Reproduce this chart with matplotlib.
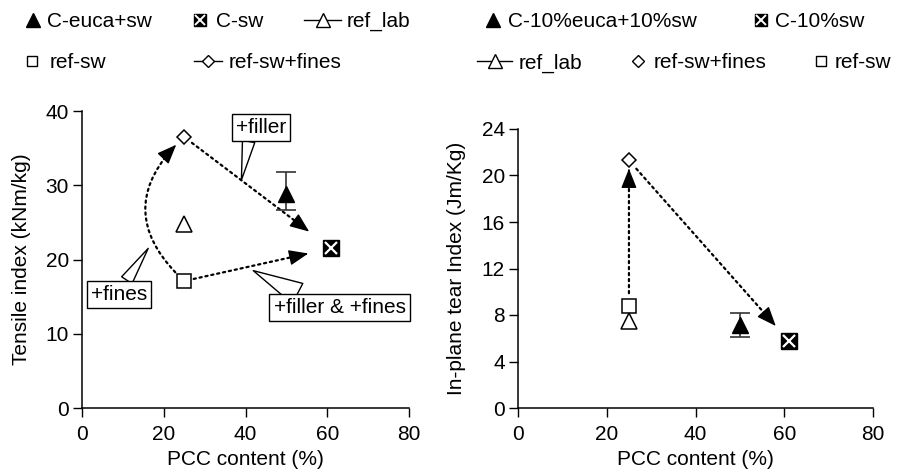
import numpy as np
import matplotlib.pyplot as plt
from matplotlib.lines import Line2D

plt.rcParams['font.family'] = ['Liberation Sans', 'DejaVu Sans']
plt.rcParams['font.size'] = 15

# samples: ref-sw, ref_lab, ref-sw+fines, C-euca+sw, C-sw
pcc = [25, 25, 25, 50, 61]
tensile = [17.1, 24.8, 36.5, 28.8, 21.5]
tensile_err_lo = [0, 0, 0, 2.2, 0.6]
tensile_err_hi = [0, 0, 0, 3.0, 0.6]
tear = [8.8, 7.5, 21.3, 7.1, 5.8]
tear_err_lo = [0, 0, 0, 1.0, 0.2]
tear_err_hi = [0, 0, 0, 1.1, 0.2]

labels_left = ['C-euca+sw', 'C-sw', 'ref_lab', 'ref-sw', 'ref-sw+fines']
labels_right = ['C-10%euca+10%sw', 'C-10%sw', 'ref_lab', 'ref-sw+fines', 'ref-sw']

W, H = 900, 469
fig = plt.figure(figsize=(9, 4.69), dpi=100)
ax1 = fig.add_axes([82 / W, 61 / H, 327 / W, 297 / H])
ax2 = fig.add_axes([518 / W, 61 / H, 355 / W, 279 / H])


def style(ax, ymax, yticks, ylabel, xlab):
    ax.set_xlim(0, 80)
    ax.set_ylim(0, ymax)
    ax.spines[['top', 'right']].set_visible(False)
    ax.spines[['left', 'bottom']].set_linewidth(1.1)
    ax.tick_params(direction='out', length=6.5, width=1)
    ax.tick_params(axis='x', pad=6)
    ax.tick_params(axis='y', pad=3)
    ax.set_xticks(range(0, 81, 20))
    ax.set_yticks(yticks)
    ax.set_xlabel('PCC content (%)', labelpad=4)
    ax.set_ylabel(ylabel)
    ax.yaxis.set_label_coords(xlab, 0.5)


def draw_points(ax, y, lo, hi):
    ax.plot(pcc[0], y[0], 's', ms=10, mfc='white', mec='k', mew=1.1, zorder=5)
    ax.plot(pcc[1], y[1], '^', ms=11, mfc='white', mec='k', mew=1.1, zorder=5)
    ax.plot(pcc[2], y[2], 'D', ms=7.5, mfc='white', mec='k', mew=1.1, zorder=5)
    ax.errorbar(pcc[3], y[3], yerr=[[lo[3]], [hi[3]]], fmt='^', ms=11, color='k',
                ecolor='#333333', elinewidth=1.2, capsize=7.5, capthick=1.2, zorder=5)
    ax.errorbar(pcc[4], y[4], yerr=[[lo[4]], [hi[4]]], fmt='s', ms=11, color='k',
                ecolor='#333333', elinewidth=1.2, capsize=5, capthick=1.2, zorder=5)
    ax.plot(pcc[4], y[4], 'x', ms=8, mec='white', mew=1.6, zorder=6)


def arrow(ax, i, j, y, sa, sb, rad=0.0):
    # dotted shaft plus a solid head on the same path
    p0 = ax.transData.transform((pcc[i], y[i]))
    p1 = ax.transData.transform((pcc[j], y[j]))
    d = np.hypot(*(p1 - p0)) * 72 / fig.dpi
    conn = 'arc3,rad=%s' % rad
    ax.annotate('', xy=(pcc[j], y[j]), xytext=(pcc[i], y[i]),
                arrowprops=dict(arrowstyle='-', color='k', lw=1.6,
                                linestyle=(0, (1, 1.7)), shrinkA=sa, shrinkB=sb + 6,
                                connectionstyle=conn), zorder=3)
    ax.annotate('', xy=(pcc[j], y[j]), xytext=(pcc[i], y[i]),
                arrowprops=dict(arrowstyle='-|>,head_length=0.6,head_width=0.24',
                                mutation_scale=20, color='k', lw=1,
                                shrinkA=d - sb - 2, shrinkB=sb,
                                connectionstyle=conn), zorder=3)


def callout(ax, text, xy, xytext, rel, tw=0.6):
    ax.annotate(text, xy=xy, xytext=xytext, ha='center', va='center', fontsize=15,
                bbox=dict(boxstyle='square,pad=0.2', fc='white', ec='k', lw=1),
                arrowprops=dict(arrowstyle='wedge,tail_width=%s,shrink_factor=0.5' % tw,
                                fc='white', ec='k', lw=1, relpos=rel,
                                shrinkA=0, shrinkB=0),
                zorder=4)


style(ax1, 40, range(0, 41, 10), 'Tensile index (kNm/kg)', -0.155)
style(ax2, 24, range(0, 25, 4), 'In-plane tear Index (Jm/Kg)', -0.147)

draw_points(ax1, tensile, tensile_err_lo, tensile_err_hi)
draw_points(ax2, tear, tear_err_lo, tear_err_hi)

# left panel arrows
arrow(ax1, 2, 4, tensile, 7, 20)
arrow(ax1, 0, 4, tensile, 7, 17)
arrow(ax1, 0, 2, tensile, 9, 8, rad=-0.54)
callout(ax1, '+filler', (39.0, 30.7), (43.8, 37.8), (0.27, 0))
callout(ax1, '+fines', (16.2, 21.5), (9.1, 15.3), (0.58, 1))
callout(ax1, '+filler & +fines', (41.9, 18.5), (63.0, 13.5), (0.25, 1), tw=1.1)

# right panel arrows
arrow(ax2, 0, 2, tear, 9, 6)
arrow(ax2, 2, 4, tear, 8, 14)

# legends, one entry each
h_tri = Line2D([], [], ls='none', marker='^', ms=10, color='k')
h_csw = (Line2D([], [], ls='none', marker='s', ms=9, color='k'),
         Line2D([], [], ls='none', marker='x', ms=7, mec='white', mew=1.4))
h_lab = Line2D([], [], color='k', lw=1, marker='^', ms=10, mfc='white', mec='k')
h_sq = Line2D([], [], ls='none', marker='s', ms=7.5, mfc='white', mec='k')
h_dia_line = Line2D([], [], color='k', lw=1, marker='D', ms=6, mfc='white', mec='k')
h_dia = Line2D([], [], ls='none', marker='D', ms=6, mfc='white', mec='k')


def add_entry(handle, label, x0, x1, xt, y):
    fig.legend([handle], [label], loc='center left', bbox_to_anchor=(x0 / W, 1 - y / H),
               frameon=False, borderpad=0, borderaxespad=0, numpoints=1,
               handlelength=(x1 - x0) * 0.72 / 15, handletextpad=(xt - x1) * 0.72 / 15,
               fontsize=15)


add_entry(h_tri, labels_left[0], 26, 40, 47, 21.7)
add_entry(h_csw, labels_left[1], 194, 206, 216, 21.7)
add_entry(h_lab, labels_left[2], 304, 341, 347, 21.7)
add_entry(h_sq, labels_left[3], 27, 37, 50, 63)
add_entry(h_dia_line, labels_left[4], 194, 222, 229, 63)

add_entry(h_tri, labels_right[0], 485, 500, 508, 21.7)
add_entry(h_csw, labels_right[1], 755, 766, 775, 21.7)
add_entry(h_lab, labels_right[2], 477, 512, 519, 63)
add_entry(h_dia, labels_right[3], 632, 643, 654, 63)
add_entry(h_sq, labels_right[4], 816, 826, 835, 63)

fig.savefig('out.png', dpi=100)
